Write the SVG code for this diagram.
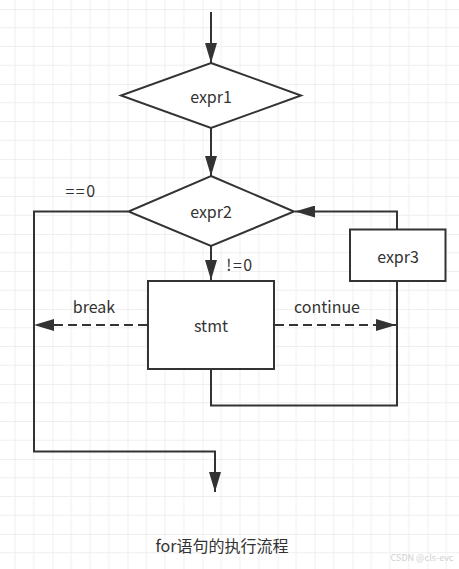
<svg xmlns="http://www.w3.org/2000/svg" width="459" height="569" viewBox="0 0 459 569">
  <defs>
    <pattern id="grid" patternUnits="userSpaceOnUse" x="52.5" y="9" width="75" height="75">
      <path d="M18.75 0V75M37.5 0V75M56.25 0V75M0 18.75H75M0 37.5H75M0 56.25H75" stroke="#efefef" stroke-width="1" fill="none"/>
      <path d="M0 0V75M0 0H75" stroke="#e2e2e2" stroke-width="1" fill="none"/>
    </pattern>
    <marker id="arr" viewBox="0 0 20 12" refX="20" refY="6" markerWidth="20" markerHeight="12" markerUnits="userSpaceOnUse" orient="auto">
      <path d="M0 0L20 6L0 12Z" fill="#333"/>
    </marker>
    <style>
      .shape { fill: #fff; stroke: #333; stroke-width: 2; }
      .line { fill: none; stroke: #333; stroke-width: 2; }
      .dash { stroke-dasharray: 9 5; }
      text { font-family: "Noto Sans CJK SC", "Noto Sans", sans-serif; font-size: 16px; fill: #333; }
      .c { text-anchor: middle; dominant-baseline: central; }
      .sp { letter-spacing: 1.5px; }
    </style>
  </defs>
  <rect width="459" height="569" fill="#fff"/>
  <rect width="459" height="569" fill="url(#grid)"/>

  <g id="connectors">
    <path class="line" d="M211 12V63" marker-end="url(#arr)"/>
    <path class="line" d="M211 128V176" marker-end="url(#arr)"/>
    <path class="line" d="M211 246V280" marker-end="url(#arr)"/>
    <path class="line" d="M128 211.5H34V451.5H215V492" marker-end="url(#arr)"/>
    <path class="line" d="M397 229V211.5H295" marker-end="url(#arr)"/>
    <path class="line" d="M211 369V405.5H397V281"/>
    <path class="line dash" d="M147 325H34" marker-end="url(#arr)"/>
    <path class="line dash" d="M275 325H396" marker-end="url(#arr)"/>
    <text x="81" y="190" class="c sp">==0</text>
    <text x="240" y="264" class="c sp">!=0</text>
    <text x="94" y="306" class="c">break</text>
    <text x="327" y="306" class="c">continue</text>
  </g>

  <g id="expr1">
    <polygon class="shape" points="211,63 301,95.5 211,128 121,95.5"/>
    <text x="211" y="96" class="c">expr1</text>
  </g>
  <g id="expr2">
    <polygon class="shape" points="211,176 294,211.5 211,246 128.5,211.5"/>
    <text x="211" y="211" class="c">expr2</text>
  </g>
  <g id="stmt">
    <rect class="shape" x="148" y="281" width="126" height="88"/>
    <text x="211" y="325" class="c">stmt</text>
  </g>
  <g id="expr3">
    <rect class="shape" x="350" y="229.5" width="95.5" height="51.5"/>
    <text x="398" y="256" class="c">expr3</text>
  </g>

  <g id="caption">
    <text x="222" y="545" class="c">for语句的执行流程</text>
    <text x="422" y="557" class="c" style="font-size:9px;fill:#d0d0d0">CSDN @cls-evc</text>
  </g>
</svg>
